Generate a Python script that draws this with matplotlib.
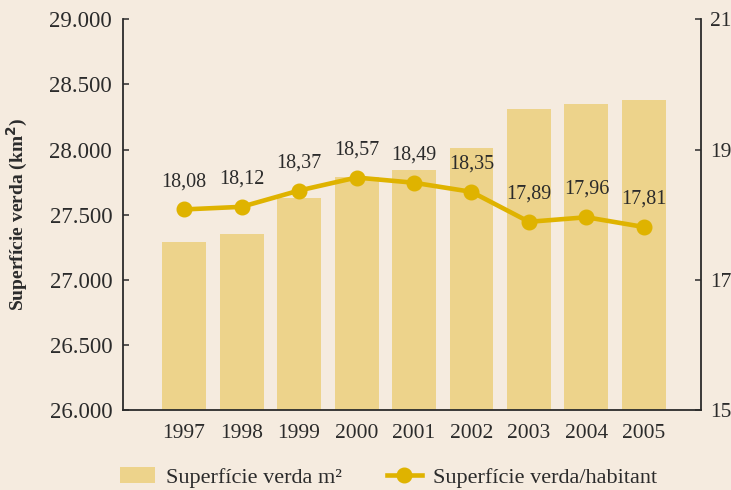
import matplotlib
matplotlib.use("Agg")
import matplotlib.pyplot as plt
from matplotlib.ticker import FuncFormatter

years = ["1997", "1998", "1999", "2000", "2001", "2002", "2003", "2004", "2005"]
area_km2 = [27287, 27349, 27626, 27787, 27841, 28013, 28310, 28349, 28379]
area_per_inhab = [18.08, 18.12, 18.37, 18.57, 18.49, 18.35, 17.89, 17.96, 17.81]
left_ticks = [26000, 26500, 27000, 27500, 28000, 28500, 29000]
right_ticks = [15, 17, 19, 21]
bar_label = "Superfície verda m²"
line_label = "Superfície verda/habitant"
ylabel = "Superfície verda (km$^\\mathbf{2}$)"

BG = "#f5ebdf"
BAR = "#edd38b"
LINE = "#dfb300"
DARK = "#2b2b2b"
FONT = ["Liberation Serif", "DejaVu Serif"]

plt.rcParams["font.family"] = FONT

fig = plt.figure(figsize=(7.31, 4.90), dpi=100, facecolor=BG)
ax = fig.add_axes([0.1687, 0.1633, 0.7898, 0.7973])
ax.set_facecolor(BG)
x = list(range(len(years)))

bars = ax.bar(x, area_km2, width=0.765, color=BAR, zorder=1)
ax.set_ylim(26000, 29000)
ax.set_xlim(-1.056, 8.986)
ax.set_yticks(left_ticks)
ax.yaxis.set_major_formatter(FuncFormatter(lambda v, p: f"{int(v):,}".replace(",", ".")))
ax.set_xticks(x)
ax.set_xticklabels(years)
ax.tick_params(axis="x", length=0, pad=10, labelsize=15.5, labelcolor=DARK)
ax.tick_params(axis="y", direction="in", length=4, width=1.1, color=DARK,
               pad=8, labelsize=16.5, labelcolor=DARK)
ax.set_ylabel(ylabel, fontsize=14, fontweight="bold", color=DARK, labelpad=14)
ax.spines["top"].set_visible(False)
ax.spines["right"].set_visible(False)
for s in ("left", "bottom"):
    ax.spines[s].set_color(DARK)
    ax.spines[s].set_linewidth(1.3)
    ax.spines[s].set_zorder(3)

ax2 = ax.twinx()
ax2.set_ylim(15, 21)
ax2.set_yticks(right_ticks)
line, = ax2.plot(x, area_per_inhab, color=LINE, lw=3.3, marker="o", ms=10.5,
                 zorder=4)
ax2.tick_params(axis="y", direction="in", length=4, width=1.1, color=DARK,
                pad=7, labelsize=15.5, labelcolor=DARK)
ax2.spines["top"].set_visible(False)
ax2.spines["left"].set_visible(False)
ax2.spines["bottom"].set_visible(False)
ax2.spines["right"].set_color(DARK)
ax2.spines["right"].set_linewidth(1.3)

for xi, v in zip(x, area_per_inhab):
    ax2.annotate(f"{v:.2f}".replace(".", ","), (xi, v), xytext=(0, 20),
                 textcoords="offset points", ha="center", va="center",
                 fontsize=14.5, color=DARK)

fig.legend([bars, line], [bar_label, line_label], loc="center",
           bbox_to_anchor=(0.5315, 0.025), ncol=2, frameon=False,
           fontsize=16, handlelength=1.6, handleheight=0.7, handletextpad=0.5,
           columnspacing=2.0, numpoints=1, labelcolor=DARK)

fig.savefig("out.png", dpi=100, facecolor=BG)
